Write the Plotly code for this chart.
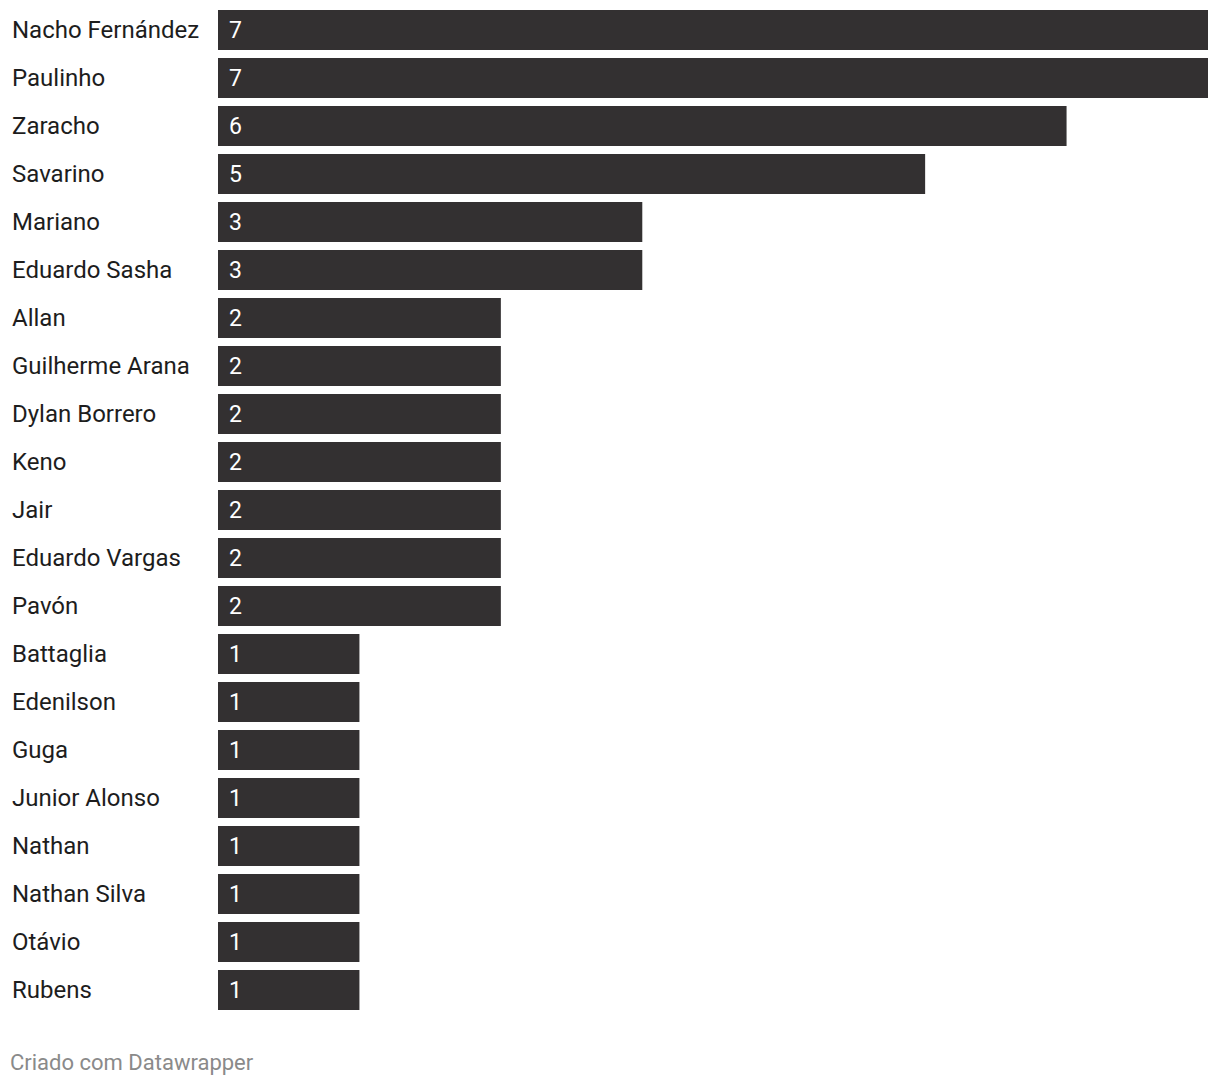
import plotly.graph_objects as go

players = ["Nacho Fernández", "Paulinho", "Zaracho", "Savarino", "Mariano", "Eduardo Sasha",
           "Allan", "Guilherme Arana", "Dylan Borrero", "Keno", "Jair", "Eduardo Vargas",
           "Pavón", "Battaglia", "Edenilson", "Guga", "Junior Alonso", "Nathan",
           "Nathan Silva", "Otávio", "Rubens"]
values = [7, 7, 6, 5, 3, 3, 2, 2, 2, 2, 2, 2, 2, 1, 1, 1, 1, 1, 1, 1, 1]
footer = "Criado com Datawrapper"

W, H = 1220, 1086
ml, mr, mt, mb = 218, 12, 6, 72
plot_w = W - ml - mr

fig = go.Figure(go.Bar(
    x=values, y=players, orientation="h",
    marker=dict(color="#333031", line=dict(width=0)),
    hoverinfo="skip",
))

annotations = []
for p, v in zip(players, values):
    annotations.append(dict(
        x=0, y=p, xref="x", yref="y", text=str(v), showarrow=False,
        xanchor="left", yanchor="middle", xshift=9,
        font=dict(family="Roboto", size=23, color="#ffffff"),
    ))
    annotations.append(dict(
        x=-(ml - 10) / plot_w, y=p, xref="paper", yref="y", text=p, showarrow=False,
        xanchor="left", yanchor="middle",
        font=dict(family="Roboto", size=24, color="#1d1d1d"),
    ))
annotations.append(dict(
    x=-(ml - 8) / plot_w, y=-(1062 - (H - mb)) / (H - mt - mb), xref="paper", yref="paper",
    text=footer, showarrow=False, xanchor="left", yanchor="middle",
    font=dict(family="Roboto", size=22, color="#8a8a8a"),
))

fig.update_layout(
    width=W, height=H,
    margin=dict(l=ml, r=mr, t=mt, b=mb, pad=0),
    paper_bgcolor="white", plot_bgcolor="white",
    bargap=8 / 48,
    showlegend=False,
    xaxis=dict(range=[0, 7], visible=False, fixedrange=True),
    yaxis=dict(autorange="reversed", showticklabels=False, showgrid=False,
               zeroline=False, showline=False, ticks="", fixedrange=True),
    annotations=annotations,
)

fig.write_html("out.html", config={"displayModeBar": False})
